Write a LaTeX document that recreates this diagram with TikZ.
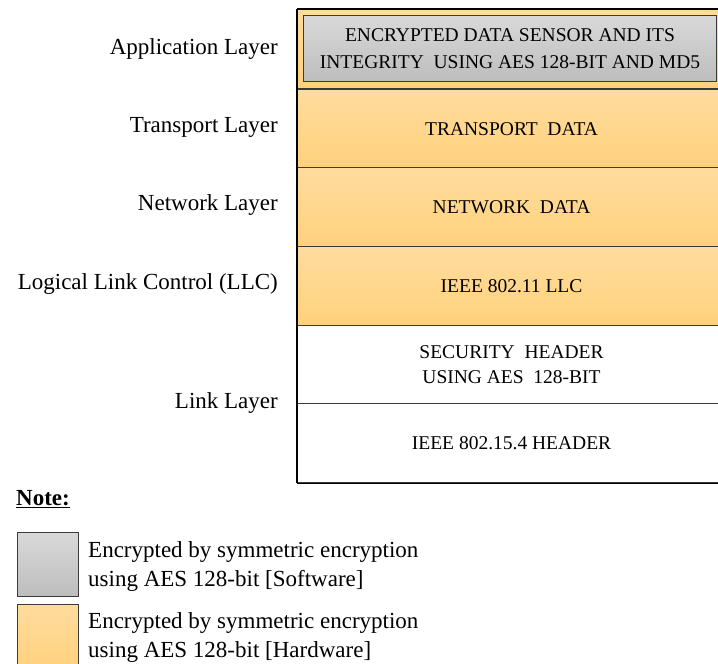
\documentclass[tikz,border=0pt]{standalone}
\usepackage{fontspec}
\setmainfont{Liberation Serif}
\begin{document}
\begin{tikzpicture}[x=1pt,y=-1pt,
  hwfill/.style={top color=hwtop,bottom color=hwbot},
  swfill/.style={top color=swtop,bottom color=swbot},
  band/.style={draw=bandline,line width=1.1pt,anchor=north west,
    minimum width=428pt,minimum height=79pt,inner sep=0pt,
    font=\fontsize{19.5}{25}\selectfont,align=center},
  layerlbl/.style={anchor=base east,inner sep=0pt,font=\fontsize{23}{28}\selectfont},
  keybox/.style={draw=bandline,line width=1pt,anchor=north west,
    minimum width=61pt,minimum height=64pt,inner sep=0pt},
  keytext/.style={anchor=west,inner sep=0pt,align=left,
    font=\fontsize{23}{29}\selectfont}]
\definecolor{hwtop}{HTML}{FFDC9E}
\definecolor{hwbot}{HTML}{FFD17C}
\definecolor{swtop}{HTML}{D9D9D9}
\definecolor{swbot}{HTML}{BDBDBD}
\definecolor{bandline}{HTML}{3A3A3A}
\useasboundingbox (0,0) rectangle (718,664);

% protocol stack
\node[band,hwfill] (app) at (297,9) {};
\node[draw=bandline,line width=1pt,swfill,anchor=north west,
  minimum width=413pt,minimum height=66pt,inner sep=0pt,
  font=\fontsize{19.5}{27}\selectfont,align=center] (appdata) at (303,15)
  {ENCRYPTED DATA SENSOR AND ITS\\INTEGRITY\ \ USING AES 128-BIT AND MD5};
\node[band,hwfill] (transport) at (297,89) {TRANSPORT\ \ DATA};
\node[band,hwfill] (network) at (297,167) {NETWORK\ \ DATA};
\node[band,hwfill] (llc) at (297,246) {IEEE 802.11 LLC};
\node[band,fill=white] (sec) at (297,325) {SECURITY\ \ HEADER\\USING AES\ \ 128-BIT};
\node[band,fill=white] (mac) at (297,403) {IEEE 802.15.4 HEADER};
\draw[black,line width=1.4pt] (app.north west) -- (app.north east);
\draw[black,line width=1.4pt] (app.north west) -- (mac.south west);
\draw[black,line width=1.1pt] (mac.south west) -- (mac.south east);

% layer names
\node[layerlbl] (lapp) at (278,54) {Application Layer};
\node[layerlbl] (ltr) at (278,132) {Transport Layer};
\node[layerlbl] (lnet) at (278,210) {Network Layer};
\node[layerlbl] (lllc) at (278,289) {Logical Link Control (LLC)};
\node[layerlbl] (llink) at (278,408) {Link Layer};

% key
\node[anchor=base west,inner sep=0pt,font=\fontsize{23}{28}\selectfont\bfseries]
  (note) at (16,505) {\underline{Note:}};
\node[keybox,swfill] (kswbox) at (17,532) {};
\node[keytext] (ksw) at (88,566) {Encrypted by symmetric encryption\\using AES 128-bit [Software]};
\node[keybox,hwfill] (khwbox) at (17,604) {};
\node[keytext] (khw) at (88,637) {Encrypted by symmetric encryption\\using AES 128-bit [Hardware]};
\end{tikzpicture}
\end{document}
